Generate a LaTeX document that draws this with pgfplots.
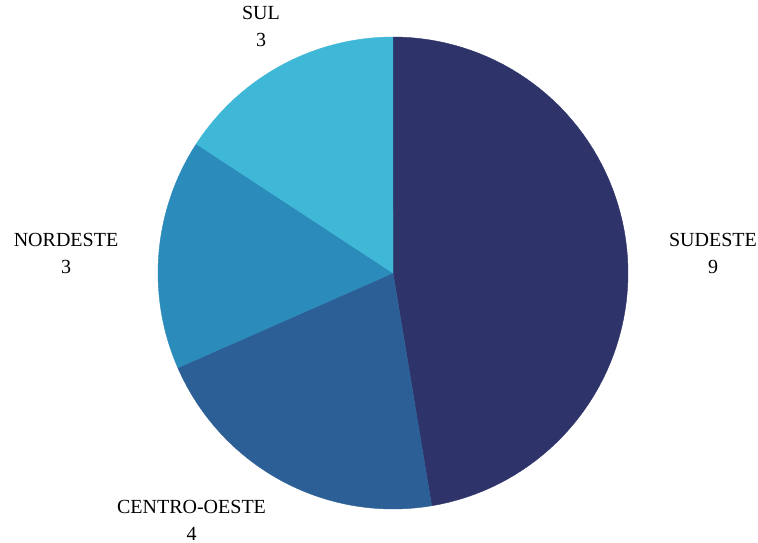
\documentclass[border=0pt]{standalone}
\usepackage{pgfplots}
\pgfplotsset{compat=1.18}
\usepackage{fontspec}
\setmainfont{Liberation Serif}
\definecolor{cSE}{HTML}{2E3369}
\definecolor{cCO}{HTML}{2D5F97}
\definecolor{cNE}{HTML}{2B8BBA}
\definecolor{cSU}{HTML}{3FB7D6}
% values: SUDESTE 9, CENTRO-OESTE 4, NORDESTE 3, SUL 3 (total 19)
\pgfmathsetmacro{\tot}{19}
\pgfmathsetmacro{\aA}{90}
\pgfmathsetmacro{\aB}{\aA-9/\tot*360}
\pgfmathsetmacro{\aC}{\aB-4/\tot*360}
\pgfmathsetmacro{\aD}{\aC-3/\tot*360}
\pgfmathsetmacro{\aE}{\aD-3/\tot*360}
\tikzset{lbl/.style={font=\fontsize{10}{12}\selectfont, anchor=base, inner sep=0pt, outer sep=0pt}}
\begin{document}
\begin{tikzpicture}
\begin{axis}[
  scale only axis, width=379pt, height=271pt,
  xmin=0, xmax=758, ymin=-542, ymax=0,
  hide axis, clip=false,
]
\addplot[fill=cSE, draw=cSE, line width=0.2pt, domain=\aA:\aB, samples=80] ({393+235*cos(x)},{-273+236*sin(x)}) -- (axis cs:393,-273) -- cycle;
\addplot[fill=cCO, draw=cCO, line width=0.2pt, domain=\aB:\aC, samples=50] ({393+235*cos(x)},{-273+236*sin(x)}) -- (axis cs:393,-273) -- cycle;
\addplot[fill=cNE, draw=cNE, line width=0.2pt, domain=\aC:\aD, samples=40] ({393+235*cos(x)},{-273+236*sin(x)}) -- (axis cs:393,-273) -- cycle;
\addplot[fill=cSU, draw=cSU, line width=0.2pt, domain=\aD:\aE, samples=40] ({393+235*cos(x)},{-273+236*sin(x)}) -- (axis cs:393,-273) -- cycle;
\node[lbl, anchor=base] at (axis cs:713,-246) {SUDESTE};
\node[lbl, anchor=base] at (axis cs:713,-273) {9};
\node[lbl, anchor=base] at (axis cs:66,-246) {NORDESTE};
\node[lbl, anchor=base] at (axis cs:66,-273) {3};
\node[lbl, anchor=base] at (axis cs:191.5,-513) {CENTRO-OESTE};
\node[lbl, anchor=base] at (axis cs:191.5,-540) {4};
\node[lbl, anchor=base] at (axis cs:261,-20) {SUL};
\node[lbl, anchor=base] at (axis cs:261,-47) {3};
\coordinate (bl) at (axis cs:0,-542);
\coordinate (tr) at (axis cs:758,0);
\end{axis}
\pgfresetboundingbox
\path[use as bounding box] (bl) rectangle (tr);
\end{tikzpicture}
\end{document}
